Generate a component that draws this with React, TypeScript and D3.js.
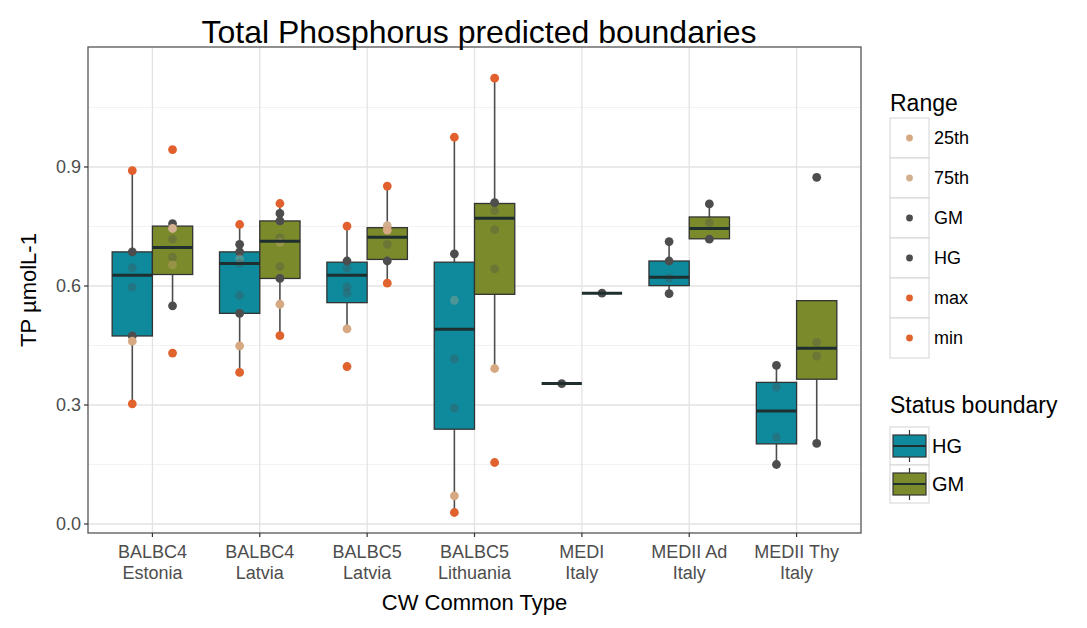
import React from "react";
import * as d3 from "d3";

// categories on the x axis (two label lines each)
const categories = ["BALBC4 Estonia", "BALBC4 Latvia", "BALBC5 Latvia", "BALBC5 Lithuania", "MEDI Italy", "MEDII Ad Italy", "MEDII Thy Italy"];
const labelTop = ["BALBC4", "BALBC4", "BALBC5", "BALBC5", "MEDI", "MEDII Ad", "MEDII Thy"];
const labelBottom = ["Estonia", "Latvia", "Latvia", "Lithuania", "Italy", "Italy", "Italy"];

const statuses = ["HG", "GM"];
const rangeLevels = ["25th", "75th", "GM", "HG", "max", "min"];

// box stats per category: [lower whisker, q1, median, q3, upper whisker]
const hgStats = [
  [0.303, 0.474, 0.627, 0.686, 0.891],
  [0.382, 0.531, 0.657, 0.686, 0.755],
  [0.492, 0.558, 0.627, 0.66, 0.751],
  [0.029, 0.239, 0.491, 0.66, 0.975],
  [0.354, 0.354, 0.354, 0.354, 0.354],
  [0.581, 0.601, 0.622, 0.663, 0.712],
  [0.15, 0.202, 0.285, 0.357, 0.4],
];
const gmStats = [
  [0.55, 0.629, 0.697, 0.751, 0.757],
  [0.475, 0.619, 0.713, 0.764, 0.808],
  [0.607, 0.667, 0.723, 0.747, 0.852],
  [0.392, 0.579, 0.771, 0.808, 1.124],
  [0.582, 0.582, 0.582, 0.582, 0.582],
  [0.718, 0.719, 0.745, 0.774, 0.807],
  [0.203, 0.365, 0.443, 0.563, 0.563],
];

// predicted values per category, [range, value]
const hgPoints: [string, number][][] = [
  [["max", 0.891], ["GM", 0.686], ["HG", 0.646], ["GM", 0.597], ["HG", 0.474], ["25th", 0.461], ["min", 0.303]],
  [["max", 0.755], ["GM", 0.705], ["HG", 0.686], ["75th", 0.668], ["HG", 0.657], ["GM", 0.576], ["HG", 0.531], ["25th", 0.449], ["min", 0.382]],
  [["max", 0.751], ["GM", 0.663], ["HG", 0.645], ["GM", 0.598], ["HG", 0.582], ["25th", 0.492], ["min", 0.397]],
  [["max", 0.975], ["GM", 0.681], ["75th", 0.564], ["HG", 0.416], ["GM", 0.292], ["25th", 0.071], ["min", 0.029]],
  [["HG", 0.354]],
  [["GM", 0.712], ["HG", 0.663], ["GM", 0.62], ["HG", 0.581]],
  [["GM", 0.4], ["HG", 0.345], ["GM", 0.219], ["HG", 0.15]],
];
const gmPoints: [string, number][][] = [
  [["max", 0.944], ["GM", 0.757], ["75th", 0.745], ["HG", 0.718], ["GM", 0.673], ["25th", 0.653], ["HG", 0.55], ["min", 0.431]],
  [["max", 0.808], ["GM", 0.783], ["HG", 0.764], ["GM", 0.722], ["75th", 0.71], ["HG", 0.649], ["GM", 0.619], ["25th", 0.554], ["min", 0.475]],
  [["max", 0.852], ["75th", 0.752], ["25th", 0.741], ["GM", 0.705], ["HG", 0.663], ["min", 0.607]],
  [["max", 1.124], ["GM", 0.81], ["HG", 0.79], ["GM", 0.742], ["HG", 0.643], ["25th", 0.392], ["min", 0.155]],
  [["GM", 0.582]],
  [["GM", 0.807], ["HG", 0.76], ["GM", 0.718]],
  [["GM", 0.874], ["HG", 0.458], ["GM", 0.423], ["HG", 0.203]],
];

const yTicks = [0, 0.3, 0.6, 0.9];
const yMinor = [0.15, 0.45, 0.75, 1.05];

const boxFill: Record<string, string> = { HG: "#0E8A9C", GM: "#7B8B2B" };
const pointColor: Record<string, string> = {
  "25th": "#D6A983",
  "75th": "#D2B08F",
  GM: "#4D4D4D",
  HG: "#4D4D4D",
  max: "#E2602E",
  min: "#E0622C",
};

const W = 1087;
const H = 628;
const panel = { left: 88, right: 861, top: 47, bottom: 533 };
const font = "'Liberation Sans', Arial, sans-serif";

export default function App() {
  const x = d3.scalePoint().domain(categories).range([panel.left, panel.right]).padding(0.6);
  const step = x.step();
  const boxW = step * 0.375;
  const dodge = d3.scaleBand().domain(statuses).range([-boxW, boxW]);
  const y = d3.scaleLinear().domain([-0.0227, 1.2025]).range([panel.bottom, panel.top]);

  const groups = statuses.map((s) => ({
    status: s,
    stats: s === "HG" ? hgStats : gmStats,
    points: s === "HG" ? hgPoints : gmPoints,
  }));

  const centre = (c: string, s: string) => (x(c) as number) + (dodge(s) as number) + dodge.bandwidth() / 2;

  return (
    <svg width={W} height={H} style={{ position: "absolute", left: 0, top: 0, background: "#fff" }} fontFamily={font}>
      {/* grid */}
      {yMinor.map((v) => (
        <line key={"mn" + v} x1={panel.left} x2={panel.right} y1={y(v)} y2={y(v)} stroke="#f2f2f2" strokeWidth={1} />
      ))}
      {yTicks.map((v) => (
        <line key={"mj" + v} x1={panel.left} x2={panel.right} y1={y(v)} y2={y(v)} stroke="#e3e3e3" strokeWidth={1.3} />
      ))}
      {categories.map((c) => (
        <line key={"vg" + c} x1={x(c)} x2={x(c)} y1={panel.top} y2={panel.bottom} stroke="#e3e3e3" strokeWidth={1.3} />
      ))}

      {/* whiskers and boxes */}
      {groups.map((g) =>
        categories.map((c, i) => {
          const [lo, q1, , q3, hi] = g.stats[i];
          const cx = centre(c, g.status);
          return (
            <g key={g.status + c}>
              <line x1={cx} x2={cx} y1={y(hi)} y2={y(q3)} stroke="#4d4d4d" strokeWidth={1.6} />
              <line x1={cx} x2={cx} y1={y(q1)} y2={y(lo)} stroke="#4d4d4d" strokeWidth={1.6} />
              <rect x={cx - boxW / 2} y={y(q3)} width={boxW} height={y(q1) - y(q3)} fill={boxFill[g.status]} stroke="#333" strokeWidth={1.3} />
            </g>
          );
        })
      )}

      {/* points (faint where the box covers them) */}
      {groups.map((g) =>
        categories.map((c, i) => {
          const [, q1, , q3] = g.stats[i];
          const cx = centre(c, g.status);
          return g.points[i].map(([r, v], j) => {
            const inside = v > q1 + 0.008 && v < q3 - 0.008;
            return <circle key={g.status + c + j} cx={cx} cy={y(v)} r={4.4} fill={pointColor[r]} opacity={inside ? 0.32 : 1} />;
          });
        })
      )}

      {/* medians */}
      {groups.map((g) =>
        categories.map((c, i) => {
          const med = g.stats[i][2];
          const cx = centre(c, g.status);
          return (
            <line key={"md" + g.status + c} x1={cx - boxW / 2} x2={cx + boxW / 2} y1={y(med)} y2={y(med)} stroke="#1f2f2f" strokeWidth={3} />
          );
        })
      )}

      {/* panel border */}
      <rect x={panel.left} y={panel.top} width={panel.right - panel.left} height={panel.bottom - panel.top} fill="none" stroke="#555" strokeWidth={1.3} />

      {/* y axis */}
      {yTicks.map((v) => (
        <g key={"yt" + v}>
          <line x1={panel.left - 4} x2={panel.left} y1={y(v)} y2={y(v)} stroke="#333" strokeWidth={1.2} />
          <text x={panel.left - 7} y={y(v)} dy="0.35em" textAnchor="end" fontSize={18} fill="#4d4d4d">
            {d3.format(".1f")(v)}
          </text>
        </g>
      ))}
      <text transform={`translate(28,${(panel.top + panel.bottom) / 2}) rotate(-90)`} textAnchor="middle" dy="0.35em" fontSize={22} fill="#000">
        TP µmolL-1
      </text>

      {/* x axis */}
      {categories.map((c, i) => (
        <g key={"xt" + c}>
          <line x1={x(c)} x2={x(c)} y1={panel.bottom} y2={panel.bottom + 4} stroke="#333" strokeWidth={1.2} />
          <text x={x(c)} y={panel.bottom + 25} textAnchor="middle" fontSize={18} fill="#4d4d4d">
            {labelTop[i]}
          </text>
          <text x={x(c)} y={panel.bottom + 46} textAnchor="middle" fontSize={18} fill="#4d4d4d">
            {labelBottom[i]}
          </text>
        </g>
      ))}
      <text x={(panel.left + panel.right) / 2} y={610} textAnchor="middle" fontSize={22} fill="#000">
        CW Common Type
      </text>

      {/* title */}
      <text x={479} y={43} textAnchor="middle" fontSize={32} fill="#000">
        Total Phosphorus predicted boundaries
      </text>

      {/* legend: Range */}
      <text x={890} y={111} fontSize={23} fill="#000">
        Range
      </text>
      {rangeLevels.map((r, i) => {
        const top = 118 + i * 40;
        return (
          <g key={"lr" + r}>
            <rect x={890} y={top} width={39} height={40} fill="#fff" stroke="#d4d4d4" strokeWidth={1} />
            <circle cx={909.5} cy={top + 20} r={3.4} fill={pointColor[r]} />
            <text x={934} y={top + 20} dy="0.35em" fontSize={18} fill="#000">
              {r}
            </text>
          </g>
        );
      })}

      {/* legend: Status boundary */}
      <text x={890} y={413} fontSize={23} fill="#000">
        Status boundary
      </text>
      {statuses.map((s, i) => {
        const top = 427 + i * 38;
        return (
          <g key={"ls" + s}>
            <rect x={890} y={top} width={39} height={38} fill="#fff" stroke="#d4d4d4" strokeWidth={1} />
            <line x1={909.5} x2={909.5} y1={top + 3} y2={top + 35} stroke="#333" strokeWidth={1.2} />
            <rect x={893} y={top + 8} width={33} height={22} fill={boxFill[s]} stroke="#333" strokeWidth={1.2} />
            <line x1={893} x2={926} y1={top + 19} y2={top + 19} stroke="#1f2f2f" strokeWidth={2} />
            <text x={932} y={top + 19} dy="0.35em" fontSize={20} fill="#000">
              {s}
            </text>
          </g>
        );
      })}
    </svg>
  );
}
